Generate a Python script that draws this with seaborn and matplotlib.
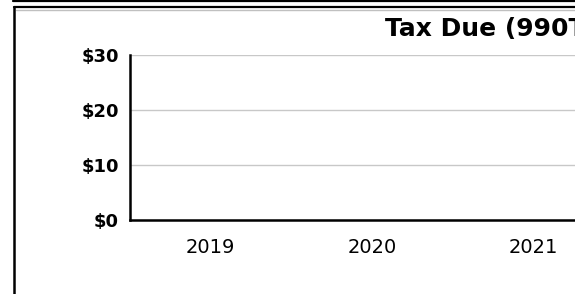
import matplotlib
matplotlib.use("Agg")
import matplotlib.pyplot as plt
import seaborn as sns
import pandas as pd
from matplotlib.lines import Line2D

# data: every year shows no tax due
years = ['2019', '2020', '2021']
tax_due = [0, 0, 0]
y_ticks = [0, 10, 20, 30]
y_labels = ['$0', '$10', '$20', '$30']
title = 'Tax Due (990T)'

sns.set_style("white")
plt.rcParams['font.family'] = ['DejaVu Sans']
plt.rcParams['text.color'] = 'black'
plt.rcParams['xtick.color'] = 'black'
plt.rcParams['ytick.color'] = 'black'

df = pd.DataFrame({'year': years, 'tax': tax_due})

fig = plt.figure(figsize=(5.75, 2.94), dpi=100)
# axes runs past the right edge, like the cropped original
ax = fig.add_axes([130 / 575, 74 / 294, 484.5 / 575, 165 / 294])

sns.barplot(data=df, x='year', y='tax', color='#3366cc', ax=ax)

ax.set_xlim(-0.5, len(years) - 0.5)
ax.set_ylim(0, 30)
ax.set_yticks(y_ticks)
ax.set_yticklabels(y_labels, fontweight='bold', fontsize=13)
ax.tick_params(axis='x', labelsize=14, pad=13, length=0)
ax.tick_params(axis='y', pad=8, length=0)
ax.set_xlabel('')
ax.set_ylabel('')
ax.yaxis.grid(True, color='#c8c8c8', linewidth=1)
ax.set_axisbelow(True)

for side in ['top', 'right']:
    ax.spines[side].set_visible(False)
for side in ['left', 'bottom']:
    ax.spines[side].set_color('black')
    ax.spines[side].set_linewidth(1.8)

fig.text(385 / 575, 1 - 29 / 294, title, ha='left', va='center',
         fontsize=18, fontweight='bold')

# outer frame lines
fig.add_artist(Line2D([13 / 575, 1], [1 - 1 / 294, 1 - 1 / 294], color='black', lw=1.6))
fig.add_artist(Line2D([14 / 575, 1], [1 - 7 / 294, 1 - 7 / 294], color='black', lw=1.6))
fig.add_artist(Line2D([16 / 575, 1], [1 - 9.5 / 294, 1 - 9.5 / 294], color='#c0c0c0', lw=1))
fig.add_artist(Line2D([14 / 575, 14 / 575], [0, 1 - 7 / 294], color='black', lw=1.8))

fig.savefig('out.png', dpi=100)
